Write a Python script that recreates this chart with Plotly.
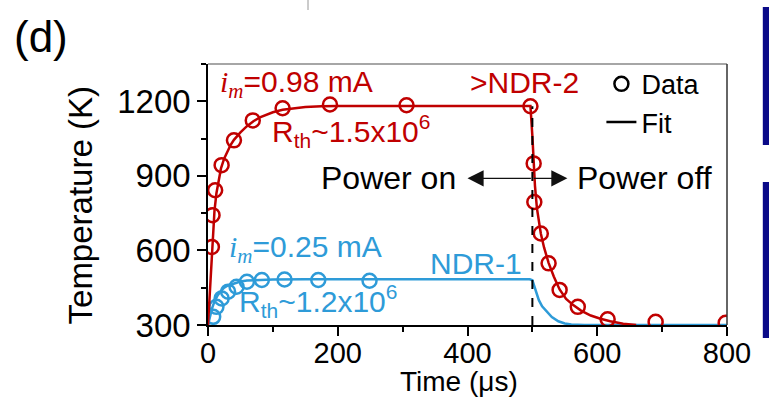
import plotly.graph_objects as go

# ---------------- data ----------------
# measured data, 0.98 mA (>NDR-2)
t_red = [6, 7, 11, 21, 40, 69, 115, 188, 306, 497, 502, 503, 513, 525, 542, 570, 616, 690, 798]
T_red = [614, 742, 842, 943, 1043, 1123, 1172, 1187, 1184, 1180, 950, 795, 668, 548, 441, 373, 323, 313, 309]

# measured data, 0.25 mA (NDR-1)
t_blue = [8, 13, 21, 31, 44, 60, 83, 118, 170, 249]
T_blue = [333, 373, 407, 434, 454, 474, 481, 483, 481, 478]

# fit, 0.98 mA
t_fit_red = [0, 2, 4, 6, 8, 10, 13, 16, 20, 25, 30, 35, 40, 50, 60, 70, 80, 90, 100, 115,
             130, 150, 175, 200, 300, 400, 497, 500, 502, 504, 507, 510, 513, 518, 525, 533,
             542, 552, 563, 575, 590, 605, 620, 640, 660]
T_fit_red = [300, 400, 500, 600, 690, 760, 830, 880, 930, 970, 1000, 1025, 1045, 1075, 1100, 1120, 1135, 1147, 1156, 1166,
             1172, 1177, 1180, 1181, 1181, 1181, 1181, 1060, 955, 860, 770, 715, 668, 612, 550, 495,
             443, 405, 380, 358, 338, 325, 315, 305, 300]

# fit, 0.25 mA
t_fit_blue = [0, 3, 6, 10, 15, 20, 25, 30, 40, 50, 60, 80, 100, 150, 496, 500, 503, 506, 510, 515,
              522, 530, 540, 550, 560, 580, 650, 800]
T_fit_blue = [300, 335, 365, 395, 420, 437, 450, 458, 468, 475, 479, 482, 483, 484, 484, 480, 455, 427, 400, 375,
              353, 332, 315, 306, 302, 300, 300, 300]

# markers of the pulse
t_off = 500          # power switched off (us)
T_peak = 1180        # top of the dashed marker (K)
t_arrow_left = 400   # tip of "Power on" arrow
t_arrow_right = 554  # tip of "Power off" arrow
T_arrow = 890

x_ticks = [0, 200, 400, 600, 800]
y_ticks = [300, 600, 900, 1200]

RED = "#C00000"
BLUE = "#2E9BD8"
FONT = "Liberation Sans, Arial, sans-serif"
SERIF = "Liberation Serif, Times New Roman, serif"

fig = go.Figure()

fig.add_trace(go.Scatter(x=t_fit_blue, y=T_fit_blue, mode="lines",
                         line=dict(color=BLUE, width=2.5), showlegend=False))
fig.add_trace(go.Scatter(x=t_blue, y=T_blue, mode="markers",
                         marker=dict(symbol="circle-open", size=14, color=BLUE, line=dict(width=2.5)),
                         showlegend=False))
fig.add_trace(go.Scatter(x=t_fit_red, y=T_fit_red, mode="lines",
                         line=dict(color=RED, width=2.5), showlegend=False))
fig.add_trace(go.Scatter(x=t_red, y=T_red, mode="markers",
                         marker=dict(symbol="circle-open", size=14, color=RED, line=dict(width=2.5)),
                         showlegend=False))

# legend entries
fig.add_trace(go.Scatter(x=[None], y=[None], mode="markers", name="Data",
                         marker=dict(symbol="circle-open", size=14, color="black", line=dict(width=2.5))))
fig.add_trace(go.Scatter(x=[None], y=[None], mode="lines", name="Fit",
                         line=dict(color="black", width=2.5)))

# dashed power-off marker
fig.add_shape(type="line", xref="x", yref="y", x0=t_off, x1=t_off, y0=300, y1=T_peak,
              line=dict(color="black", width=2, dash="dash"), layer="above")

# frame (top and right)
fig.add_shape(type="line", xref="paper", yref="paper", x0=0, x1=1, y0=1, y1=1,
              line=dict(color="#888888", width=1.5))
fig.add_shape(type="line", xref="paper", yref="paper", x0=1, x1=1, y0=0, y1=1,
              line=dict(color="#333333", width=1.5))

# neighbouring panel fragments at right edge and top
fig.add_shape(type="rect", xref="paper", yref="paper", x0=1.069, x1=1.09, y0=0.690, y1=1.218,
              fillcolor="#0A0A88", line=dict(width=0))
fig.add_shape(type="rect", xref="paper", yref="paper", x0=1.069, x1=1.09, y0=-0.050, y1=0.548,
              fillcolor="#0A0A88", line=dict(width=0))
fig.add_shape(type="line", xref="paper", yref="paper", x0=0.1927, x1=0.1927, y0=1.207, y1=1.25,
              line=dict(color="#BBBBBB", width=1.5))

ann = []
# arrows
for tip in (t_arrow_left, t_arrow_right):
    ann.append(dict(x=tip, y=T_arrow, ax=t_off, ay=T_arrow, xref="x", yref="y", axref="x", ayref="y",
                    showarrow=True, arrowhead=2, arrowsize=2.3, arrowwidth=1.4, arrowcolor="#111111", text=""))
ann += [
    dict(x=385, y=T_arrow, xref="x", yref="y", text="Power on", showarrow=False,
         xanchor="right", yanchor="middle", font=dict(family=FONT, size=32, color="black")),
    dict(x=565, y=T_arrow, xref="x", yref="y", text="Power off", showarrow=False,
         xanchor="left", yanchor="middle", font=dict(family=FONT, size=32, color="black")),
    dict(x=15, y=1270, xref="x", yref="y", showarrow=False, xanchor="left", yanchor="middle",
         text=f"<span style='font-family:{SERIF}'><i>i</i><sub><i>m</i></sub></span>=0.98 mA",
         font=dict(family=FONT, size=30, color=RED)),
    dict(x=96, y=1080, xref="x", yref="y", showarrow=False, xanchor="left", yanchor="middle",
         text="R<sub>th</sub>~1.5x10<sup>6</sup>", font=dict(family=FONT, size=30, color=RED)),
    dict(x=488, y=1277, xref="x", yref="y", showarrow=False, xanchor="center", yanchor="middle",
         text="&gt;NDR-2", font=dict(family=FONT, size=30, color=RED)),
    dict(x=29, y=605, xref="x", yref="y", showarrow=False, xanchor="left", yanchor="middle",
         text=f"<span style='font-family:{SERIF}'><i>i</i><sub><i>m</i></sub></span>=0.25 mA",
         font=dict(family=FONT, size=30, color=BLUE)),
    dict(x=413, y=549, xref="x", yref="y", showarrow=False, xanchor="center", yanchor="middle",
         text="NDR-1", font=dict(family=FONT, size=30, color=BLUE)),
    dict(x=45, y=396, xref="x", yref="y", showarrow=False, xanchor="left", yanchor="middle",
         text="R<sub>th</sub>~1.2x10<sup>6</sup>", font=dict(family=FONT, size=30, color=BLUE)),
    dict(x=-0.2466, y=0.458, xref="paper", yref="paper", text="Temperature (K)", textangle=-90,
         xanchor="center", yanchor="middle",
         showarrow=False, font=dict(family=FONT, size=33, color="black")),
    dict(x=0.4836, y=-0.2146, xref="paper", yref="paper", text="Time (\u03bcs)",
         xanchor="center", yanchor="middle",
         showarrow=False, font=dict(family=FONT, size=28, color="black")),
    dict(x=-0.3776, y=1.107, xref="paper", yref="paper", text="(d)", xanchor="left", yanchor="middle",
         showarrow=False, font=dict(family=FONT, size=44, color="black")),
]

fig.update_layout(
    width=769, height=400,
    margin=dict(l=208, r=42, t=64, b=75),
    paper_bgcolor="white", plot_bgcolor="white",
    font=dict(family=FONT, color="black"),
    annotations=ann,
    legend=dict(x=0.758, y=1.016, xanchor="left", yanchor="top", bgcolor="rgba(0,0,0,0)",
                font=dict(family=FONT, size=27, color="black"), tracegroupgap=0,
                itemwidth=30),
    xaxis=dict(range=[0, 800], tickvals=x_ticks, showgrid=False, zeroline=False,
               showline=True, linecolor="black", linewidth=1.5,
               ticks="outside", ticklen=9, tickwidth=1.5, tickcolor="black",
               minor=dict(dtick=100, ticks="outside", ticklen=5, tickwidth=1.5, tickcolor="black"),
               tickfont=dict(family=FONT, size=29, color="black")),
    yaxis=dict(range=[300, 1350], tickvals=y_ticks, showgrid=False, zeroline=False,
               showline=True, linecolor="black", linewidth=1.5,
               ticks="outside", ticklen=9, tickwidth=1.5, tickcolor="black",
               minor=dict(dtick=150, ticks="outside", ticklen=5, tickwidth=1.5, tickcolor="black"),
               tickfont=dict(family=FONT, size=33, color="black")),
)

try:
    fig.update_xaxes(ticklabelstandoff=-8)
except (ValueError, TypeError):
    pass

fig.write_html("out.html")
